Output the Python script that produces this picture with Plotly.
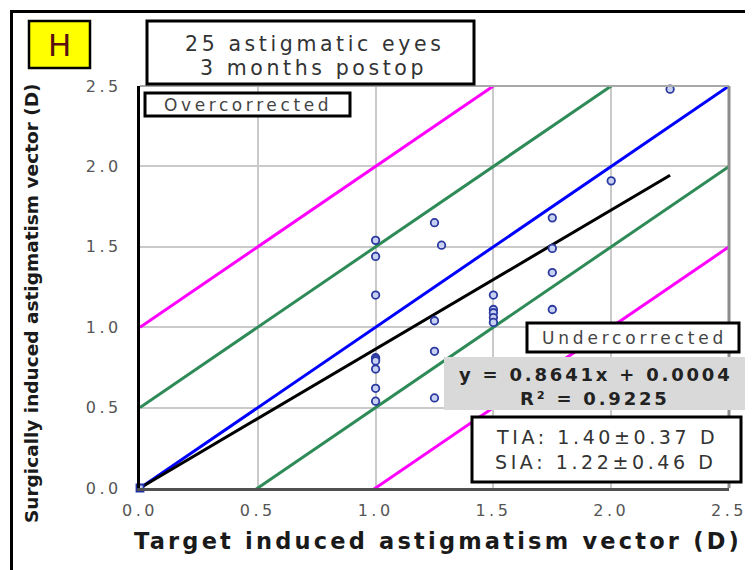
import plotly.graph_objects as go

# ---------------- data ----------------
tia = [1.0, 1.0, 1.0, 1.0, 1.0, 1.0, 1.0, 1.0, 1.0,
       1.25, 1.28, 1.25, 1.25, 1.25,
       1.5, 1.5, 1.5, 1.5, 1.5,
       1.75, 1.75, 1.75, 1.75,
       2.0, 2.25]
sia = [1.54, 1.44, 1.20, 0.81, 0.80, 0.79, 0.74, 0.62, 0.54,
       1.65, 1.51, 1.04, 0.85, 0.56,
       1.20, 1.11, 1.09, 1.06, 1.03,
       1.68, 1.49, 1.34, 1.11,
       1.91, 2.48]
origin_x = [0.0]
origin_y = [0.0]
slope = 0.8641
intercept = 0.0004
fit_x = [0.0, 2.25]
ref_offsets = [1.0, 0.5, 0.0, -0.5, -1.0]
ref_colors = ["#ff00ff", "#2e8b57", "#0000ff", "#2e8b57", "#ff00ff"]
ref_x = [0.0, 2.5]
tick_vals = [0.0, 0.5, 1.0, 1.5, 2.0, 2.5]
tick_text = ["0.0", "0.5", "1.0", "1.5", "2.0", "2.5"]

# ---------------- geometry helpers (screen pixels -> paper) ----------------
W, H = 753, 570
OFF = 8  # page body margin
L, R, T, B = 140, 729, 86, 488  # plot area on screen
PW, PH = R - L, B - T


def px(x):
    return (x - L) / PW


def py(y):
    return (B - y) / PH


def spaced(text, sp):
    return f'<span style="letter-spacing:{sp}px">{text}</span>'


fig = go.Figure()

for off, col in zip(ref_offsets, ref_colors):
    fig.add_trace(go.Scatter(x=ref_x, y=[v + off for v in ref_x], mode="lines",
                             line=dict(color=col, width=3), hoverinfo="skip"))

fig.add_trace(go.Scatter(x=fit_x, y=[slope * v + intercept for v in fit_x], mode="lines",
                         line=dict(color="black", width=3), hoverinfo="skip"))

fig.add_trace(go.Scatter(x=tia, y=sia, mode="markers", cliponaxis=False,
                         marker=dict(symbol="circle", size=7.5, color="#c9d1f2",
                                     line=dict(color="#2b3aa0", width=1.8))))
fig.add_trace(go.Scatter(x=origin_x, y=origin_y, mode="markers", cliponaxis=False,
                         marker=dict(symbol="square", size=7, color="#c9d1f2",
                                     line=dict(color="#1f2fa8", width=1.8))))

shapes = []
# outer frame
shapes.append(dict(type="rect", xref="paper", yref="paper", x0=px(11.5), x1=px(800),
                   y0=py(620), y1=py(11.5), line=dict(color="black", width=3), layer="above"))
# plot borders top / right
shapes.append(dict(type="line", xref="paper", yref="paper", x0=0, x1=1, y0=1, y1=1,
                   line=dict(color="#a8a8a8", width=2), layer="above"))
shapes.append(dict(type="line", xref="paper", yref="paper", x0=1, x1=1, y0=0, y1=1,
                   line=dict(color="#8c8c8c", width=3), layer="above"))


def box(x0, y0, x1, y1, fill="white", lw=3, lc="black"):
    shapes.append(dict(type="rect", xref="paper", yref="paper", x0=px(x0), x1=px(x1),
                       y0=py(y1), y1=py(y0), fillcolor=fill,
                       line=dict(color=lc, width=lw), layer="above"))


box(29, 21, 90, 68, fill="#ffff00", lw=2.5)
box(147, 21, 474, 84)
box(145, 93, 350, 116)
box(527, 323, 739, 352)
box(444, 357, 745, 410, fill="#d9d9d9", lw=0, lc="rgba(0,0,0,0)")
box(472, 417, 741, 482)

annotations = []


def label(x, y, text, size, color="#333333", family="DejaVu Sans", angle=0):
    annotations.append(dict(x=px(x), y=py(y), xref="paper", yref="paper", text=text,
                            showarrow=False, xanchor="center", yanchor="middle",
                            textangle=angle,
                            font=dict(family=family, size=size, color=color)))


label(59.5, 45, "H", 31, color="#5a1010", family="DejaVu Sans")
label(314, 44, spaced("25 astigmatic eyes", 3.6), 20.5)
label(313, 68, spaced("3 months postop", 3.6), 20.5)
label(248, 105, spaced("Overcorrected", 3.6), 17, color="#444444")
label(634, 338, spaced("Undercorrected", 3.8), 17, color="#444444")
label(596, 374, spaced("<b>y = 0.8641x + 0.0004</b>", 2.8), 18, color="#222222")
label(595, 398, spaced("<b>R² = 0.9225</b>", 2.8), 18, color="#222222")
label(607, 437, spaced("TIA: 1.40±0.37 D", 3.6), 19)
label(606, 462, spaced("SIA: 1.22±0.46 D", 3.6), 19)
# axis titles
label(438, 541, spaced("<b>Target induced astigmatism vector (D)</b>", 3.2), 22.5, color="#1a1a1a")
label(31, 303, "<b>Surgically induced astigmatism vector (D)</b>", 18.5, color="#1a1a1a", angle=-90)

tick_html = [spaced(t, 3.5) for t in tick_text]

fig.update_layout(
    width=W, height=H,
    margin=dict(l=L - OFF, r=W - (R - OFF), t=T - OFF, b=H - (B - OFF)),
    paper_bgcolor="white", plot_bgcolor="white",
    showlegend=False,
    shapes=shapes, annotations=annotations,
    xaxis=dict(range=[0, 2.5], tickvals=tick_vals, ticktext=tick_html,
               showgrid=True, gridcolor="#cacaca", gridwidth=1.5, zeroline=False,
               showline=True, linecolor="#505050", linewidth=3,
               ticks="", ticklabelstandoff=6,
               tickfont=dict(family="DejaVu Sans", size=16, color="#555555")),
    yaxis=dict(range=[0, 2.5], tickvals=tick_vals, ticktext=tick_html,
               showgrid=True, gridcolor="#cacaca", gridwidth=1.5, zeroline=False,
               showline=True, linecolor="black", linewidth=3,
               ticks="", ticklabelstandoff=12,
               tickfont=dict(family="DejaVu Sans", size=16, color="#555555")),
)

fig.write_html("out.html")
